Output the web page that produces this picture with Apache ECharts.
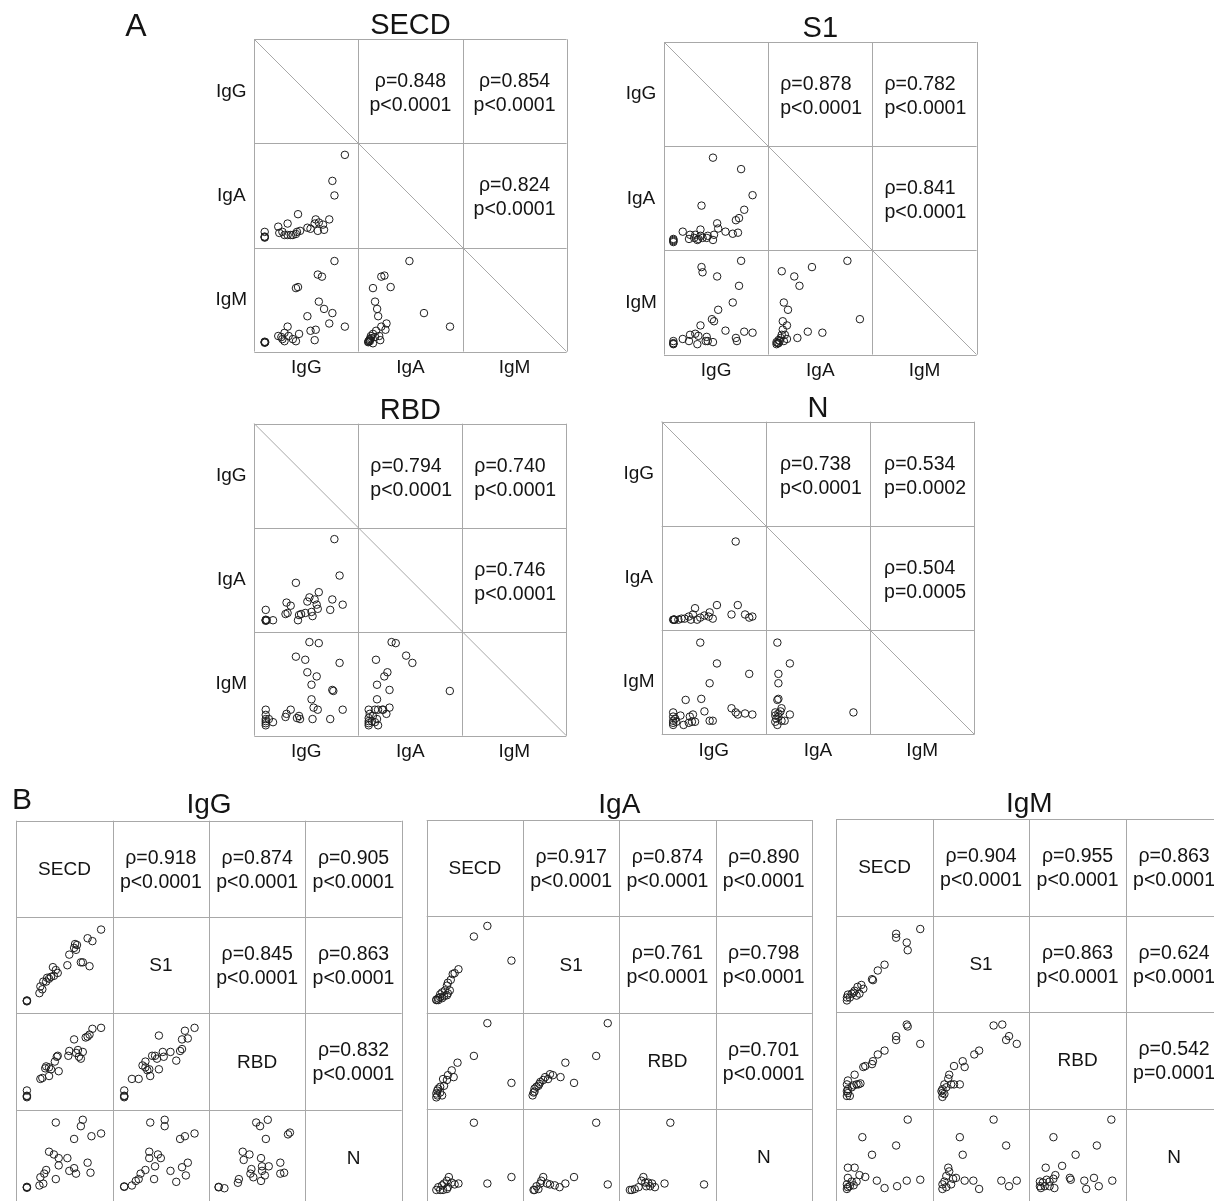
<!DOCTYPE html>
<html>
<head>
<meta charset="utf-8">
<script src="https://cdn.jsdelivr.net/npm/echarts@6/dist/echarts.min.js"></script>
<style>
html,body{margin:0;padding:0;background:#fff;}
#chart{width:1214px;height:1201px;}
</style>
</head>
<body>
<div id="chart"></div>
<script>
// ---------------- Categories / labels ----------------
const isotypes = ['IgG', 'IgA', 'IgM'];
const antigens = ['SECD', 'S1', 'RBD', 'N'];
const panelATitles = ['SECD', 'S1', 'RBD', 'N'];
const panelBTitles = ['IgG', 'IgA', 'IgM'];

// ---------------- Spearman statistics ----------------
// Panel A, upper cells in order (IgG,IgA), (IgG,IgM), (IgA,IgM)
const rhoA_SECD = ['0.848', '0.854', '0.824'];
const pA_SECD = ['p<0.0001', 'p<0.0001', 'p<0.0001'];
const rhoA_S1 = ['0.878', '0.782', '0.841'];
const pA_S1 = ['p<0.0001', 'p<0.0001', 'p<0.0001'];
const rhoA_RBD = ['0.794', '0.740', '0.746'];
const pA_RBD = ['p<0.0001', 'p<0.0001', 'p<0.0001'];
const rhoA_N = ['0.738', '0.534', '0.504'];
const pA_N = ['p<0.0001', 'p=0.0002', 'p=0.0005'];
// Panel B, upper cells in order (SECD,S1),(SECD,RBD),(SECD,N),(S1,RBD),(S1,N),(RBD,N)
const rhoB_IgG = ['0.918', '0.874', '0.905', '0.845', '0.863', '0.832'];
const pB_IgG = ['p<0.0001', 'p<0.0001', 'p<0.0001', 'p<0.0001', 'p<0.0001', 'p<0.0001'];
const rhoB_IgA = ['0.917', '0.874', '0.890', '0.761', '0.798', '0.701'];
const pB_IgA = ['p<0.0001', 'p<0.0001', 'p<0.0001', 'p<0.0001', 'p<0.0001', 'p<0.0001'];
const rhoB_IgM = ['0.904', '0.955', '0.863', '0.863', '0.624', '0.542'];
const pB_IgM = ['p<0.0001', 'p<0.0001', 'p<0.0001', 'p<0.0001', 'p<0.0001', 'p=0.0001'];

// ---------------- Scatter values (relative level 0-100, [x, y]) ----------------
// Panel A – SECD
const A_SECD_IgA_IgG = [[87,89],[75,64],[77,50],[42,32],[32,23],[23,20],[59,27],[51,19],[54,18],[58,23],[62,24],[66,22],[72,27],[67,17],[61,16],[24,14],[27,15],[29,12],[32,12],[35,12],[37,12],[40,13],[41,15],[44,16],[10,15],[10,10],[10,10.5],[10,9.5]];
const A_SECD_IgM_IgG = [[77,87],[61,74],[65,72],[40,61],[42,62],[62,48],[67,41],[75,37],[51,34],[72,27],[87,24],[54,20],[59,21],[32,24],[23,15],[26,14],[29,18],[27,12],[29,10],[33,15],[37,12],[40,10],[43,17],[58,11],[10,9],[10,9.5],[10,8.5],[10.5,9]];
const A_SECD_IgM_IgA = [[49,87],[22,72],[25,73],[14,61],[31,62],[16,48],[18,41],[19,34],[63,37],[88,24],[27,27],[26,21],[22,24],[17,20],[14,17],[12,15],[12,13],[11,12],[10,10],[9.5,9],[10.5,11],[21,11],[14,8],[20,15],[16,14],[9.5,9.5],[11,10]];
// Panel A – S1
const A_S1_IgA_IgG = [[47,89],[74,78],[36,43],[85,53],[77,39],[69,29],[72,31],[51,26],[52,21],[59,18],[66,16],[71,17],[18,18],[25,15],[30,15],[35,20],[35,14],[42,14],[48,15],[24,11],[29,12],[32,10],[33,11],[37,12],[41,12],[47,10],[9,11],[9,10],[9,8],[9,9]];
const A_S1_IgM_IgG = [[74,90],[36,84],[37,79],[51,75],[72,66],[66,50],[52,43],[46,34],[48,32],[35,28],[59,23],[77,22],[85,21],[69,16],[70,13],[18,15],[25,19],[30,20],[33,18],[24,13],[32,10],[41,17],[42,13],[47,12],[40,13],[9,13],[9,11],[9,10],[9,10.5]];
const A_S1_IgM_IgA = [[76,90],[13,80],[42,84],[25,75],[30,66],[15,50],[19,43],[88,34],[14,32],[18,28],[38,22],[52,21],[28,16],[14,24],[13,19],[16,19],[12,16],[10,14],[8,12],[8,10],[10,11],[11,13],[15,13],[18,15],[9,11]];
// Panel A – RBD
const A_RBD_IgA_IgG = [[77,89],[82,54],[40,47],[62,38],[53,33],[58,31],[51,29],[60,26],[75,31],[85,26],[73,21],[31,28],[35,25],[61,22],[55,19],[56,15],[49,18],[45,17],[43,16],[42,11],[32,18],[30,17],[11,21],[11,11],[11,11.5],[11,10.5],[12,11],[18,11]];
const A_RBD_IgM_IgG = [[53,90],[62,89],[40,76],[49,73],[82,70],[51,61],[60,57],[55,49],[75,44],[76,43],[55,35],[57,27],[61,25],[85,25],[35,25],[31,21],[30,18],[43,19],[44,16],[41,17],[56,16],[73,16],[11,25],[11,20],[11,16],[11,14],[11,12],[11,10],[14,16],[18,13]];
const A_RBD_IgM_IgA = [[32,90],[36,89],[17,73],[46,77],[52,70],[28,61],[25,57],[18,49],[30,44],[88,43],[18,35],[30,27],[23,25],[24,25],[27,21],[16,25],[19,25],[10,25],[11,21],[14,19],[18,16],[10,17],[10,14],[10,12],[10,10],[13,14],[19,10],[16,13]];
// Panel A – N
const A_N_IgA_IgG = [[71,85],[53,24],[73,24],[32,21],[67,15],[80,15],[84,12],[87,13],[46,17],[49,11],[45,13],[41,14],[37,12],[34,10],[30,15],[28,10],[26,13],[22,11],[19,11],[16,10],[12,10],[12.5,10],[11.5,10],[11,10]];
const A_N_IgM_IgG = [[37,88],[53,68],[84,58],[46,49],[23,33],[38,34],[41,22],[67,25],[71,21],[73,19],[80,20],[87,19],[30,19],[27,17],[18,18],[49,13],[46,13],[32,12],[29,12],[26,11],[21,9],[11,21],[11,17],[11,13],[11,11],[11,9],[13,15],[14,12]];
const A_N_IgM_IgA = [[11,88],[23,68],[12,58],[12,49],[11,33],[12,34],[15,25],[14,22],[23,19],[84,21],[9,21],[9,18],[10,15],[9,12],[11,9],[15,13],[18,13],[12,17],[12,20]];

// Panel B – IgG
const B_IgG_S1_SECD = [[88,87],[74,78],[79,75],[61,72],[63,71],[60,68],[62,66],[55,61],[67,53],[69,53],[76,49],[53,50],[38,48],[41,45],[43,42],[39,39],[36,38],[32,37],[34,36],[31,33],[28,33],[25,28],[27,25],[24,21],[11,13],[11,13.5],[11,12.5]];
const B_IgG_RBD_SECD = [[88,85],[79,84],[76,78],[74,76],[72,75],[60,73],[55,61],[64,62],[69,60],[62,59],[67,53],[65,55],[54,56],[43,56],[42,55],[40,50],[44,40],[34,44],[31,45],[30,43],[36,42],[34,35],[25,32],[27,33],[11,20],[11,14],[11,13],[11,14.5]];
const B_IgG_N_SECD = [[41,86],[69,89],[67,82],[60,68],[78,71],[88,74],[34,54],[39,51],[44,47],[53,47],[44,39],[55,33],[60,36],[62,30],[74,42],[77,31],[31,34],[29,30],[25,26],[24,17],[28,19],[41,24],[11,15],[11,15.5],[11,14.5]];
const B_IgG_RBD_S1 = [[85,85],[75,82],[78,74],[72,73],[48,77],[70,61],[72,63],[60,60],[52,60],[44,56],[41,56],[46,53],[53,55],[66,51],[48,42],[34,50],[31,46],[34,44],[38,42],[36,41],[39,35],[27,32],[20,32],[12,20],[12,14],[12,13],[12,14.5]];
const B_IgG_N_S1 = [[39,86],[54,89],[54,82],[70,68],[75,71],[85,74],[38,54],[47,51],[38,47],[50,47],[60,33],[44,38],[34,34],[29,30],[27,24],[24,22],[20,17],[43,24],[72,37],[78,42],[76,28],[66,21],[12,16],[12,15.5]];
const B_IgG_N_RBD = [[49,86],[61,89],[53,82],[59,68],[82,73],[84,75],[35,54],[42,51],[36,45],[54,47],[55,38],[62,38],[55,33],[74,42],[74,30],[78,31],[44,35],[43,30],[46,26],[58,28],[31,24],[30,20],[54,22],[10,15],[10,15.5],[16,14]];
// Panel B – IgA
const B_IgA_S1_SECD = [[63,90],[49,79],[88,54],[33,45],[29,41],[27,40],[25,34],[22,31],[21,28],[19,23],[16,21],[14,19],[12,15],[10,13],[10,13.5],[16,15],[18,17],[22,20],[12,13],[24,23],[21,18],[14,16]];
const B_IgA_RBD_SECD = [[63,89],[49,55],[88,27],[32,48],[26,40],[22,35],[17,31],[21,30],[28,33],[18,24],[14,23],[12,21],[11,19],[10,16],[11,14],[16,14],[10,12],[14,17]];
const B_IgA_N_SECD = [[49,85],[88,26],[63,19],[23,26],[21,22],[26,20],[29,18],[33,19],[18,19],[16,17],[12,15],[10,12],[14,12],[17,12],[21,13],[22,15]];
const B_IgA_RBD_S1 = [[88,89],[76,55],[44,48],[53,27],[39,33],[31,35],[28,36],[26,31],[21,30],[18,28],[16,24],[14,23],[12,21],[11,17],[10,14],[12,18],[17,26],[23,33]];
const B_IgA_N_S1 = [[76,85],[88,18],[53,26],[44,19],[21,26],[19,22],[28,18],[33,17],[38,15],[25,19],[18,19],[14,16],[11,12],[12,12],[16,13]];
const B_IgA_N_RBD = [[53,85],[88,18],[47,19],[25,26],[23,22],[27,20],[30,20],[34,19],[37,15],[32,16],[20,15],[16,13],[13,12],[11,12],[28,16]];
// Panel B – IgM
const B_IgM_S1_SECD = [[87,86],[62,81],[62,77],[73,72],[74,64],[50,49],[43,43],[37,34],[38,33],[26,28],[22,26],[19,22],[28,24],[18,20],[16,19],[12,18],[11,15],[14,15],[11,12],[21,17],[24,19]];
const B_IgM_RBD_SECD = [[73,87],[74,85],[62,75],[62,71],[87,67],[50,60],[43,56],[38,49],[37,46],[30,44],[28,43],[19,35],[25,26],[23,25],[21,25],[18,24],[16,22],[12,20],[11,18],[12,16],[11,13],[14,13],[11,25],[12,29]];
const B_IgM_N_SECD = [[74,88],[27,69],[62,60],[37,50],[12,36],[19,36],[24,28],[30,26],[42,22],[50,14],[63,16],[73,22],[87,23],[12,25],[16,21],[11,18],[12,15],[14,16],[18,17],[11,13],[21,21]];
const B_IgM_RBD_S1 = [[63,86],[72,87],[79,75],[76,71],[87,67],[48,60],[43,56],[31,49],[33,43],[22,44],[17,35],[16,31],[12,25],[22,25],[19,25],[14,22],[10,20],[9,18],[10,16],[10,12],[12,15],[28,25]];
const B_IgM_N_S1 = [[63,88],[28,69],[31,50],[76,60],[16,36],[17,32],[14,27],[21,24],[24,25],[33,22],[42,22],[48,13],[71,22],[79,16],[87,22],[12,21],[10,18],[14,15],[10,13],[19,18]];
const B_IgM_N_RBD = [[85,88],[25,69],[70,60],[48,50],[17,36],[34,38],[27,28],[42,25],[43,23],[57,22],[59,13],[67,25],[72,16],[86,22],[11,21],[14,20],[18,23],[21,21],[25,24],[12,14],[11,16],[16,16],[21,16],[26,14]];

// ---------------- Assembly ----------------
const panelA = [
  { rho: rhoA_SECD, p: pA_SECD, cells: [A_SECD_IgA_IgG, A_SECD_IgM_IgG, A_SECD_IgM_IgA] },
  { rho: rhoA_S1, p: pA_S1, cells: [A_S1_IgA_IgG, A_S1_IgM_IgG, A_S1_IgM_IgA] },
  { rho: rhoA_RBD, p: pA_RBD, cells: [A_RBD_IgA_IgG, A_RBD_IgM_IgG, A_RBD_IgM_IgA] },
  { rho: rhoA_N, p: pA_N, cells: [A_N_IgA_IgG, A_N_IgM_IgG, A_N_IgM_IgA] }
];
const panelB = [
  { rho: rhoB_IgG, p: pB_IgG, cells: [B_IgG_S1_SECD, B_IgG_RBD_SECD, B_IgG_RBD_S1, B_IgG_N_SECD, B_IgG_N_S1, B_IgG_N_RBD] },
  { rho: rhoB_IgA, p: pB_IgA, cells: [B_IgA_S1_SECD, B_IgA_RBD_SECD, B_IgA_RBD_S1, B_IgA_N_SECD, B_IgA_N_S1, B_IgA_N_RBD] },
  { rho: rhoB_IgM, p: pB_IgM, cells: [B_IgM_S1_SECD, B_IgM_RBD_SECD, B_IgM_RBD_S1, B_IgM_N_SECD, B_IgM_N_S1, B_IgM_N_RBD] }
];

// layout (positions & styles)
const layoutA = [
  { left: 254.3, top: 39.3, cell: 104.1, align: 'center', pad: 0 },
  { left: 664.0, top: 42.0, cell: 104.2, align: 'left', pad: 12 },
  { left: 254.3, top: 423.7, cell: 104.0, align: 'left', pad: 12 },
  { left: 661.7, top: 421.7, cell: 104.2, align: 'left', pad: 14 }
];
const layoutB = [
  { left: 16.3, top: 820.7, cell: 96.35 },
  { left: 426.7, top: 820.0, cell: 96.3 },
  { left: 836.3, top: 819.0, cell: 96.5 }
];

const FONT = '"Liberation Sans", Arial, Helvetica, sans-serif';
const LINE_COLOR = '#a8a8a8';
const TEXT_COLOR = '#141414';

const grids = [], xAxes = [], yAxes = [], series = [], graphics = [];

function addScatter(left, top, size, data) {
  const i = grids.length;
  grids.push({ left: left, top: top, width: size, height: size, show: false, containLabel: false });
  xAxes.push({ type: 'value', gridIndex: i, min: 0, max: 100, show: false });
  yAxes.push({ type: 'value', gridIndex: i, min: 0, max: 100, show: false });
  series.push({
    type: 'scatter', xAxisIndex: i, yAxisIndex: i, data: data,
    symbol: 'circle', symbolSize: 7.5, silent: true, clip: false,
    itemStyle: { color: 'rgba(255,255,255,0)', borderColor: '#1e1e1e', borderWidth: 1, opacity: 1 }
  });
}
function px(v) { return Math.round(v) + 0.5; }
function line(x1, y1, x2, y2) {
  graphics.push({ type: 'line', silent: true, shape: { x1: x1, y1: y1, x2: x2, y2: y2 },
    style: { stroke: LINE_COLOR, lineWidth: 1 } });
}
function text(x, y, str, size, align) {
  graphics.push({ type: 'text', silent: true, x: x, y: y,
    style: { text: str, fontSize: size, fontFamily: FONT, fill: TEXT_COLOR,
      align: align || 'center', verticalAlign: 'middle',
      textAlign: align || 'center', textVerticalAlign: 'middle', lineHeight: 24 } });
}
function gridLines(L, T, C, n) {
  for (let i = 0; i <= n; i++) {
    line(L, px(T + i * C), L + n * C, px(T + i * C));
    line(px(L + i * C), T, px(L + i * C), T + n * C);
  }
}

// Panel A
const upperA = [[0, 1], [0, 2], [1, 2]];
const lowerA = [[1, 0], [2, 0], [2, 1]];
panelA.forEach(function (m, k) {
  const cfg = layoutA[k], L = cfg.left, T = cfg.top, C = cfg.cell;
  gridLines(L, T, C, 3);
  line(L, T, L + 3 * C, T + 3 * C);
  text(L + 1.5 * C, T - 13, panelATitles[k], 29);
  isotypes.forEach(function (lab, i) {
    text(L - 23, T + (i + 0.5) * C, lab, 19);
    text(L + (i + 0.5) * C, T + 3 * C + 16, lab, 19);
  });
  upperA.forEach(function (rc, j) {
    const x = cfg.align === 'center' ? L + (rc[1] + 0.5) * C : L + rc[1] * C + cfg.pad;
    text(x, T + (rc[0] + 0.5) * C + 2.5, 'ρ=' + m.rho[j] + '\n' + m.p[j], 19.5, cfg.align);
  });
  lowerA.forEach(function (rc, j) {
    addScatter(L + rc[1] * C, T + rc[0] * C, C, m.cells[j]);
  });
});

// Panel B
const upperB = [[0, 1], [0, 2], [0, 3], [1, 2], [1, 3], [2, 3]];
const lowerB = [[1, 0], [2, 0], [2, 1], [3, 0], [3, 1], [3, 2]];
panelB.forEach(function (m, k) {
  const cfg = layoutB[k], L = cfg.left, T = cfg.top, C = cfg.cell;
  gridLines(L, T, C, 4);
  text(L + 2 * C, T - 15, panelBTitles[k], 28);
  antigens.forEach(function (lab, i) {
    text(L + (i + 0.5) * C, T + (i + 0.5) * C + 1, lab, 19);
  });
  upperB.forEach(function (rc, j) {
    text(L + (rc[1] + 0.5) * C, T + (rc[0] + 0.5) * C + 1.5, 'ρ=' + m.rho[j] + '\n' + m.p[j], 19.5, 'center');
  });
  lowerB.forEach(function (rc, j) {
    addScatter(L + rc[1] * C, T + rc[0] * C, C, m.cells[j]);
  });
});

// Panel letters
text(136, 27, 'A', 32);
text(22, 801, 'B', 30);

const chart = echarts.init(document.getElementById('chart'), null, { renderer: 'canvas' });
chart.setOption({
  animation: false,
  backgroundColor: '#ffffff',
  grid: grids,
  xAxis: xAxes,
  yAxis: yAxes,
  series: series,
  graphic: { elements: graphics }
});
</script>
</body>
</html>
